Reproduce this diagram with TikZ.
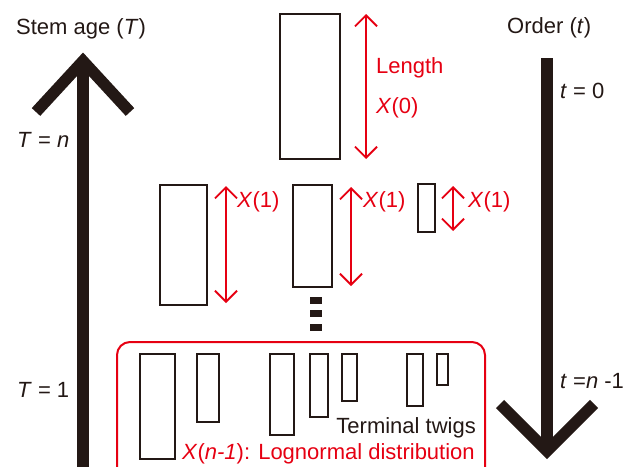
\documentclass[tikz,border=0pt]{standalone}
\usepackage{fontspec}
\setmainfont{Liberation Sans}
\usetikzlibrary{arrows.meta}
\definecolor{ink}{RGB}{35,24,21}
\definecolor{myred}{RGB}{230,0,18}
\begin{document}
\begin{tikzpicture}[x=1pt,y=-1pt,
  twig/.style={draw=ink,line width=2pt,inner sep=0pt,outer sep=0pt},
  dotsq/.style={fill=ink,inner sep=0pt,minimum width=12pt,minimum height=7pt},
  lab/.style={text=ink,font=\fontsize{22}{25}\selectfont,inner sep=0pt,anchor=base west},
  rlab/.style={text=myred,font=\fontsize{22}{25}\selectfont,inner sep=0pt,anchor=base west},
  bigarrow/.style={draw=ink,line width=11.5pt},
  lenarrow/.style={draw=myred,line width=1.9pt,{Straight Barb[length=11pt,width=22pt,line width=1.9pt]}-{Straight Barb[length=11pt,width=22pt,line width=1.9pt]}}
]
\useasboundingbox (0,0) rectangle (629,466);
% stem age arrow
\coordinate (La) at (83,61);
\coordinate (Lb) at (83,480);
\coordinate (Ll) at (36,112);
\coordinate (Lr) at (130,112);
\draw[bigarrow] (La) -- (Lb);
\draw[bigarrow,miter limit=10] (Ll) -- (La) -- (Lr);
% order arrow
\coordinate (Ra) at (547,58);
\coordinate (Rb) at (547,451);
\coordinate (Rl) at (500,404);
\coordinate (Rr) at (594,404);
\draw[bigarrow] (Ra) -- (Rb);
\draw[bigarrow,miter limit=10] (Rl) -- (Rb) -- (Rr);
% labels
\node[lab] (stem) at (16,34) {Stem age (\textit{T})};
\node[lab] (order) at (507,33) {Order (\textit{t})};
\node[lab] (Tn) at (17,147) {\textit{T} = \textit{n}};
\node[lab] (T1) at (17,397) {\textit{T} = 1};
\node[lab] (t0) at (560,98) {\textit{t} = 0};
\node[lab] (tn) at (560,388) {\textit{t} =\textit{n} -1};
% top stem
\node[twig,minimum width=60pt,minimum height=145pt] (s0) at (310,86.5) {};
\coordinate (l0a) at (366,14);
\coordinate (l0b) at (366,159);
\draw[lenarrow] (l0a) -- (l0b);
\node[rlab] (len) at (376,73) {Length};
\node[rlab] (x0) at (376,113) {\textit{X}(0)};
% second order
\node[twig,minimum width=47pt,minimum height=120pt] (sA) at (183.5,245) {};
\node[twig,minimum width=39pt,minimum height=102pt] (sB) at (312.5,236) {};
\node[twig,minimum width=17pt,minimum height=48pt] (sC) at (426.5,208) {};
\coordinate (lAa) at (226,186);
\coordinate (lAb) at (226,303);
\coordinate (lBa) at (351,187);
\coordinate (lBb) at (351,286);
\coordinate (lCa) at (453,186);
\coordinate (lCb) at (453,231);
\draw[lenarrow] (lAa) -- (lAb);
\draw[lenarrow] (lBa) -- (lBb);
\draw[lenarrow] (lCa) -- (lCb);
\node[rlab] (x1a) at (237,207) {\textit{X}(1)};
\node[rlab] (x1b) at (363,207) {\textit{X}(1)};
\node[rlab] (x1c) at (468,207) {\textit{X}(1)};
% dots
\node[dotsq] (d1) at (316,300.5) {};
\node[dotsq] (d2) at (316,313.5) {};
\node[dotsq] (d3) at (316,327.5) {};
% terminal twigs
\draw[myred,line width=2pt,rounded corners=13pt] (117,342) rectangle (485,485);
\node[twig,minimum width=35pt,minimum height=105pt] (t1) at (157.5,406.5) {};
\node[twig,minimum width=22pt,minimum height=68pt] (t2) at (208,388) {};
\node[twig,minimum width=24pt,minimum height=81pt] (t3) at (282,394.5) {};
\node[twig,minimum width=18pt,minimum height=63pt] (t4) at (319,385.5) {};
\node[twig,minimum width=15pt,minimum height=47pt] (t5) at (349.5,377.5) {};
\node[twig,minimum width=16pt,minimum height=52pt] (t6) at (415,380) {};
\node[twig,minimum width=11pt,minimum height=31pt] (t7) at (442.5,369.5) {};
\node[lab,anchor=base east] (term) at (476,433) {Terminal twigs};
\node[rlab] (logn) at (182,459) {\textit{X}(\textit{n-1}): Lognormal distribution};
\end{tikzpicture}
\end{document}
